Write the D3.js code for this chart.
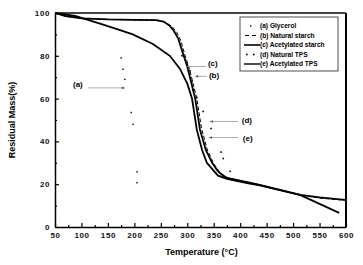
<!DOCTYPE html>
<html>
<head>
<meta charset="utf-8">
<script src="https://cdn.jsdelivr.net/npm/d3@7"></script>
<style>
  body { margin: 0; background: #fff; }
  svg { display: block; font-family: "Liberation Sans", Arial, sans-serif; }
</style>
</head>
<body>
<div id="chart"></div>
<script>
// data (temperature in °C, residual mass in %)
const glycerolT   = [175, 178.5, 182, 194, 197.5, 205, 205];
const glycerolM   = [79, 73.7, 69, 53.5, 48, 25.8, 20.7];

const natStarchT  = [50, 70, 100, 150, 200, 245, 260, 272, 280, 288, 296, 304, 311, 318, 327, 338, 350, 362, 375, 413, 437, 475, 513, 550, 598];
const natStarchM  = [100, 98.5, 97.5, 97, 96.8, 96.7, 95.5, 93.5, 91, 87, 80, 74, 67, 60, 46, 36, 29.5, 25.5, 23, 21, 19.7, 17.4, 15, 13.5, 12.5];

const acStarchT   = [50, 70, 100, 150, 200, 240, 255, 267, 275, 283, 292, 300, 307, 315, 324, 335, 347, 358, 368, 375, 413, 437, 475, 513, 550, 598];
const acStarchM   = [100, 98.5, 97.5, 97, 96.8, 96.7, 96, 94, 91.5, 88, 81, 75, 68, 60, 45.5, 36, 30, 26, 24, 23, 21, 19.7, 17.4, 15, 13.8, 12.7];

const natTpsT     = [290, 300, 305, 309, 311, 318, 330, 345, 364, 368, 381];
const natTpsM     = [80, 76, 73, 68, 64, 60.5, 54, 46, 35, 32, 26];

const acTpsT      = [50, 88, 135, 173, 197, 235, 267, 286, 300, 309, 318, 328, 337, 358, 375, 413, 437, 475, 513, 550, 587];
const acTpsM      = [100, 98.6, 95, 92, 90, 85.5, 80, 74, 67, 60, 45.5, 36, 30, 24, 22.5, 20.5, 19.4, 17.2, 15, 10.8, 6.6];

const xTicks = [50, 100, 150, 200, 250, 300, 350, 400, 450, 500, 550, 600];
const yTicks = [0, 20, 40, 60, 80, 100];

const legendLabels = ["(a) Glycerol", "(b) Natural starch", "(c) Acetylated starch", "(d) Natural TPS", "(e) Acetylated TPS"];

// callout labels: text position, line start, line end (data coords), arrow at end?
const callouts = [
  {text: "(a)", tx: 84,  ty: 66.5, x1: 112, x2: 182, y: 65,   arrow: true},
  {text: "(c)", tx: 339, ty: 76.5, x1: 335, x2: 300, y: 75,   arrow: false},
  {text: "(b)", tx: 341, ty: 71,   x1: 337, x2: 315, y: 70.4, arrow: true},
  {text: "(d)", tx: 403, ty: 50,   x1: 396, x2: 343, y: 49.3, arrow: true},
  {text: "(e)", tx: 405, ty: 41.3, x1: 396, x2: 341, y: 41.8, arrow: true}
];

const width = 363, height = 265;
const margin = {top: 13, right: 17, bottom: 38, left: 55};

const svg = d3.select("#chart").append("svg")
    .attr("width", width)
    .attr("height", height);

const x = d3.scaleLinear().domain([50, 600]).range([margin.left, width - margin.right]);
const y = d3.scaleLinear().domain([0, 100]).range([height - margin.bottom, margin.top]);

const zip = (a, b) => a.map((v, i) => [v, b[i]]);
const line = d3.line().x(d => x(d[0])).y(d => y(d[1]));

// frame: top and right
svg.append("line")
    .attr("x1", x(50)).attr("x2", x(600))
    .attr("y1", y(100)).attr("y2", y(100))
    .attr("stroke", "#444").attr("stroke-width", 2);
svg.append("line")
    .attr("x1", x(600)).attr("x2", x(600))
    .attr("y1", y(100)).attr("y2", y(0))
    .attr("stroke", "#000").attr("stroke-width", 2);

// axes (ticks point inward)
const xAxis = svg.append("g")
    .attr("transform", `translate(0,${y(0)})`)
    .call(d3.axisBottom(x).tickValues(xTicks).tickSizeInner(-4).tickSizeOuter(0).tickPadding(5));
svg.append("g")
    .attr("transform", `translate(0,${y(0)})`)
    .call(d3.axisBottom(x).tickValues(xTicks.slice(1).map(v => v - 25)).tickSize(-2).tickFormat(""))
    .call(g => g.select(".domain").remove());

const yAxis = svg.append("g")
    .attr("transform", `translate(${x(50)},0)`)
    .call(d3.axisLeft(y).tickValues(yTicks).tickSizeInner(-4).tickSizeOuter(0).tickPadding(5));
svg.append("g")
    .attr("transform", `translate(${x(50)},0)`)
    .call(d3.axisLeft(y).tickValues([10, 30, 50, 70, 90]).tickSize(-2).tickFormat(""))
    .call(g => g.select(".domain").remove());

svg.selectAll(".domain").attr("stroke", "#000").attr("stroke-width", 1.5);
svg.selectAll(".tick line").attr("stroke", "#000").attr("stroke-width", 1.2);
svg.selectAll(".tick text")
    .style("font-family", "Liberation Sans, Arial, sans-serif")
    .style("font-size", "8px")
    .style("font-weight", "bold")
    .style("letter-spacing", "0.6px")
    .attr("fill", "#111");

// axis titles
svg.append("text")
    .attr("transform", `translate(15,${(y(0) + y(100)) / 2}) rotate(-90)`)
    .attr("text-anchor", "middle")
    .style("font-size", "9px").style("font-weight", "bold")
    .text("Residual Mass(%)");
svg.append("text")
    .attr("x", (x(50) + x(600)) / 2 + 1)
    .attr("y", 255)
    .attr("text-anchor", "middle")
    .style("font-size", "9px").style("font-weight", "bold")
    .text("Temperature (°C)");

// curves
svg.append("path").datum(zip(acTpsT, acTpsM))
    .attr("d", line).attr("fill", "none")
    .attr("stroke", "#000").attr("stroke-width", 1.8);
svg.append("path").datum(zip(acStarchT, acStarchM))
    .attr("d", line).attr("fill", "none")
    .attr("stroke", "#000").attr("stroke-width", 1.8);
svg.append("path").datum(zip(natStarchT, natStarchM))
    .attr("d", line).attr("fill", "none")
    .attr("stroke", "#000").attr("stroke-width", 1)
    .attr("stroke-dasharray", "4,2");

svg.selectAll(".dTps")
    .data(zip(natTpsT, natTpsM))
    .join("rect")
    .attr("x", d => x(d[0]) - 0.8).attr("y", d => y(d[1]) - 0.8)
    .attr("width", 1.6).attr("height", 1.6).attr("fill", "#000");

svg.selectAll(".glyc")
    .data(zip(glycerolT, glycerolM))
    .join("rect")
    .attr("x", d => x(d[0]) - 0.7).attr("y", d => y(d[1]) - 0.7)
    .attr("width", 1.4).attr("height", 1.4).attr("fill", "#000");

// callouts
const co = svg.append("g");
callouts.forEach(c => {
  co.append("line")
      .attr("x1", x(c.x1)).attr("x2", x(c.x2))
      .attr("y1", y(c.y)).attr("y2", y(c.y))
      .attr("stroke", "#999").attr("stroke-width", 0.8);
  if (c.arrow) {
    const dir = c.x2 > c.x1 ? 1 : -1;
    const ax = x(c.x2), ay = y(c.y);
    co.append("path")
        .attr("d", `M${ax},${ay} L${ax - dir * 3},${ay - 1.3} L${ax - dir * 3},${ay + 1.3} Z`)
        .attr("fill", "#555");
  }
  co.append("text")
      .attr("x", x(c.tx)).attr("y", y(c.ty))
      .attr("dy", "0.35em")
      .style("font-size", "8px").style("font-weight", "bold")
      .text(c.text);
});

// legend
const lg = svg.append("g");
lg.append("rect")
    .attr("x", 240).attr("y", 17).attr("width", 98).attr("height", 54)
    .attr("fill", "#fff").attr("stroke", "#222").attr("stroke-width", 0.8);

const rowY = i => 26 + i * 9.5;
legendLabels.forEach((t, i) => {
  lg.append("text")
      .attr("x", 260).attr("y", rowY(i)).attr("dy", "0.35em")
      .style("font-size", "6.6px").style("font-weight", "bold")
      .text(t);
});
// (a) single dot
lg.append("rect").attr("x", 250).attr("y", rowY(0) - 0.7).attr("width", 1.4).attr("height", 1.4).attr("fill", "#000");
// (b) dashed
lg.append("line").attr("x1", 245).attr("x2", 259).attr("y1", rowY(1)).attr("y2", rowY(1))
    .attr("stroke", "#000").attr("stroke-width", 1.2).attr("stroke-dasharray", "4,3");
// (c) solid
lg.append("line").attr("x1", 244).attr("x2", 260).attr("y1", rowY(2)).attr("y2", rowY(2))
    .attr("stroke", "#000").attr("stroke-width", 1.6);
// (d) dots
[246, 253].forEach(px => lg.append("rect").attr("x", px).attr("y", rowY(3) - 0.8)
    .attr("width", 1.6).attr("height", 1.6).attr("fill", "#000"));
// (e) solid
lg.append("line").attr("x1", 244).attr("x2", 260).attr("y1", rowY(4)).attr("y2", rowY(4))
    .attr("stroke", "#000").attr("stroke-width", 1.4);
</script>
</body>
</html>
